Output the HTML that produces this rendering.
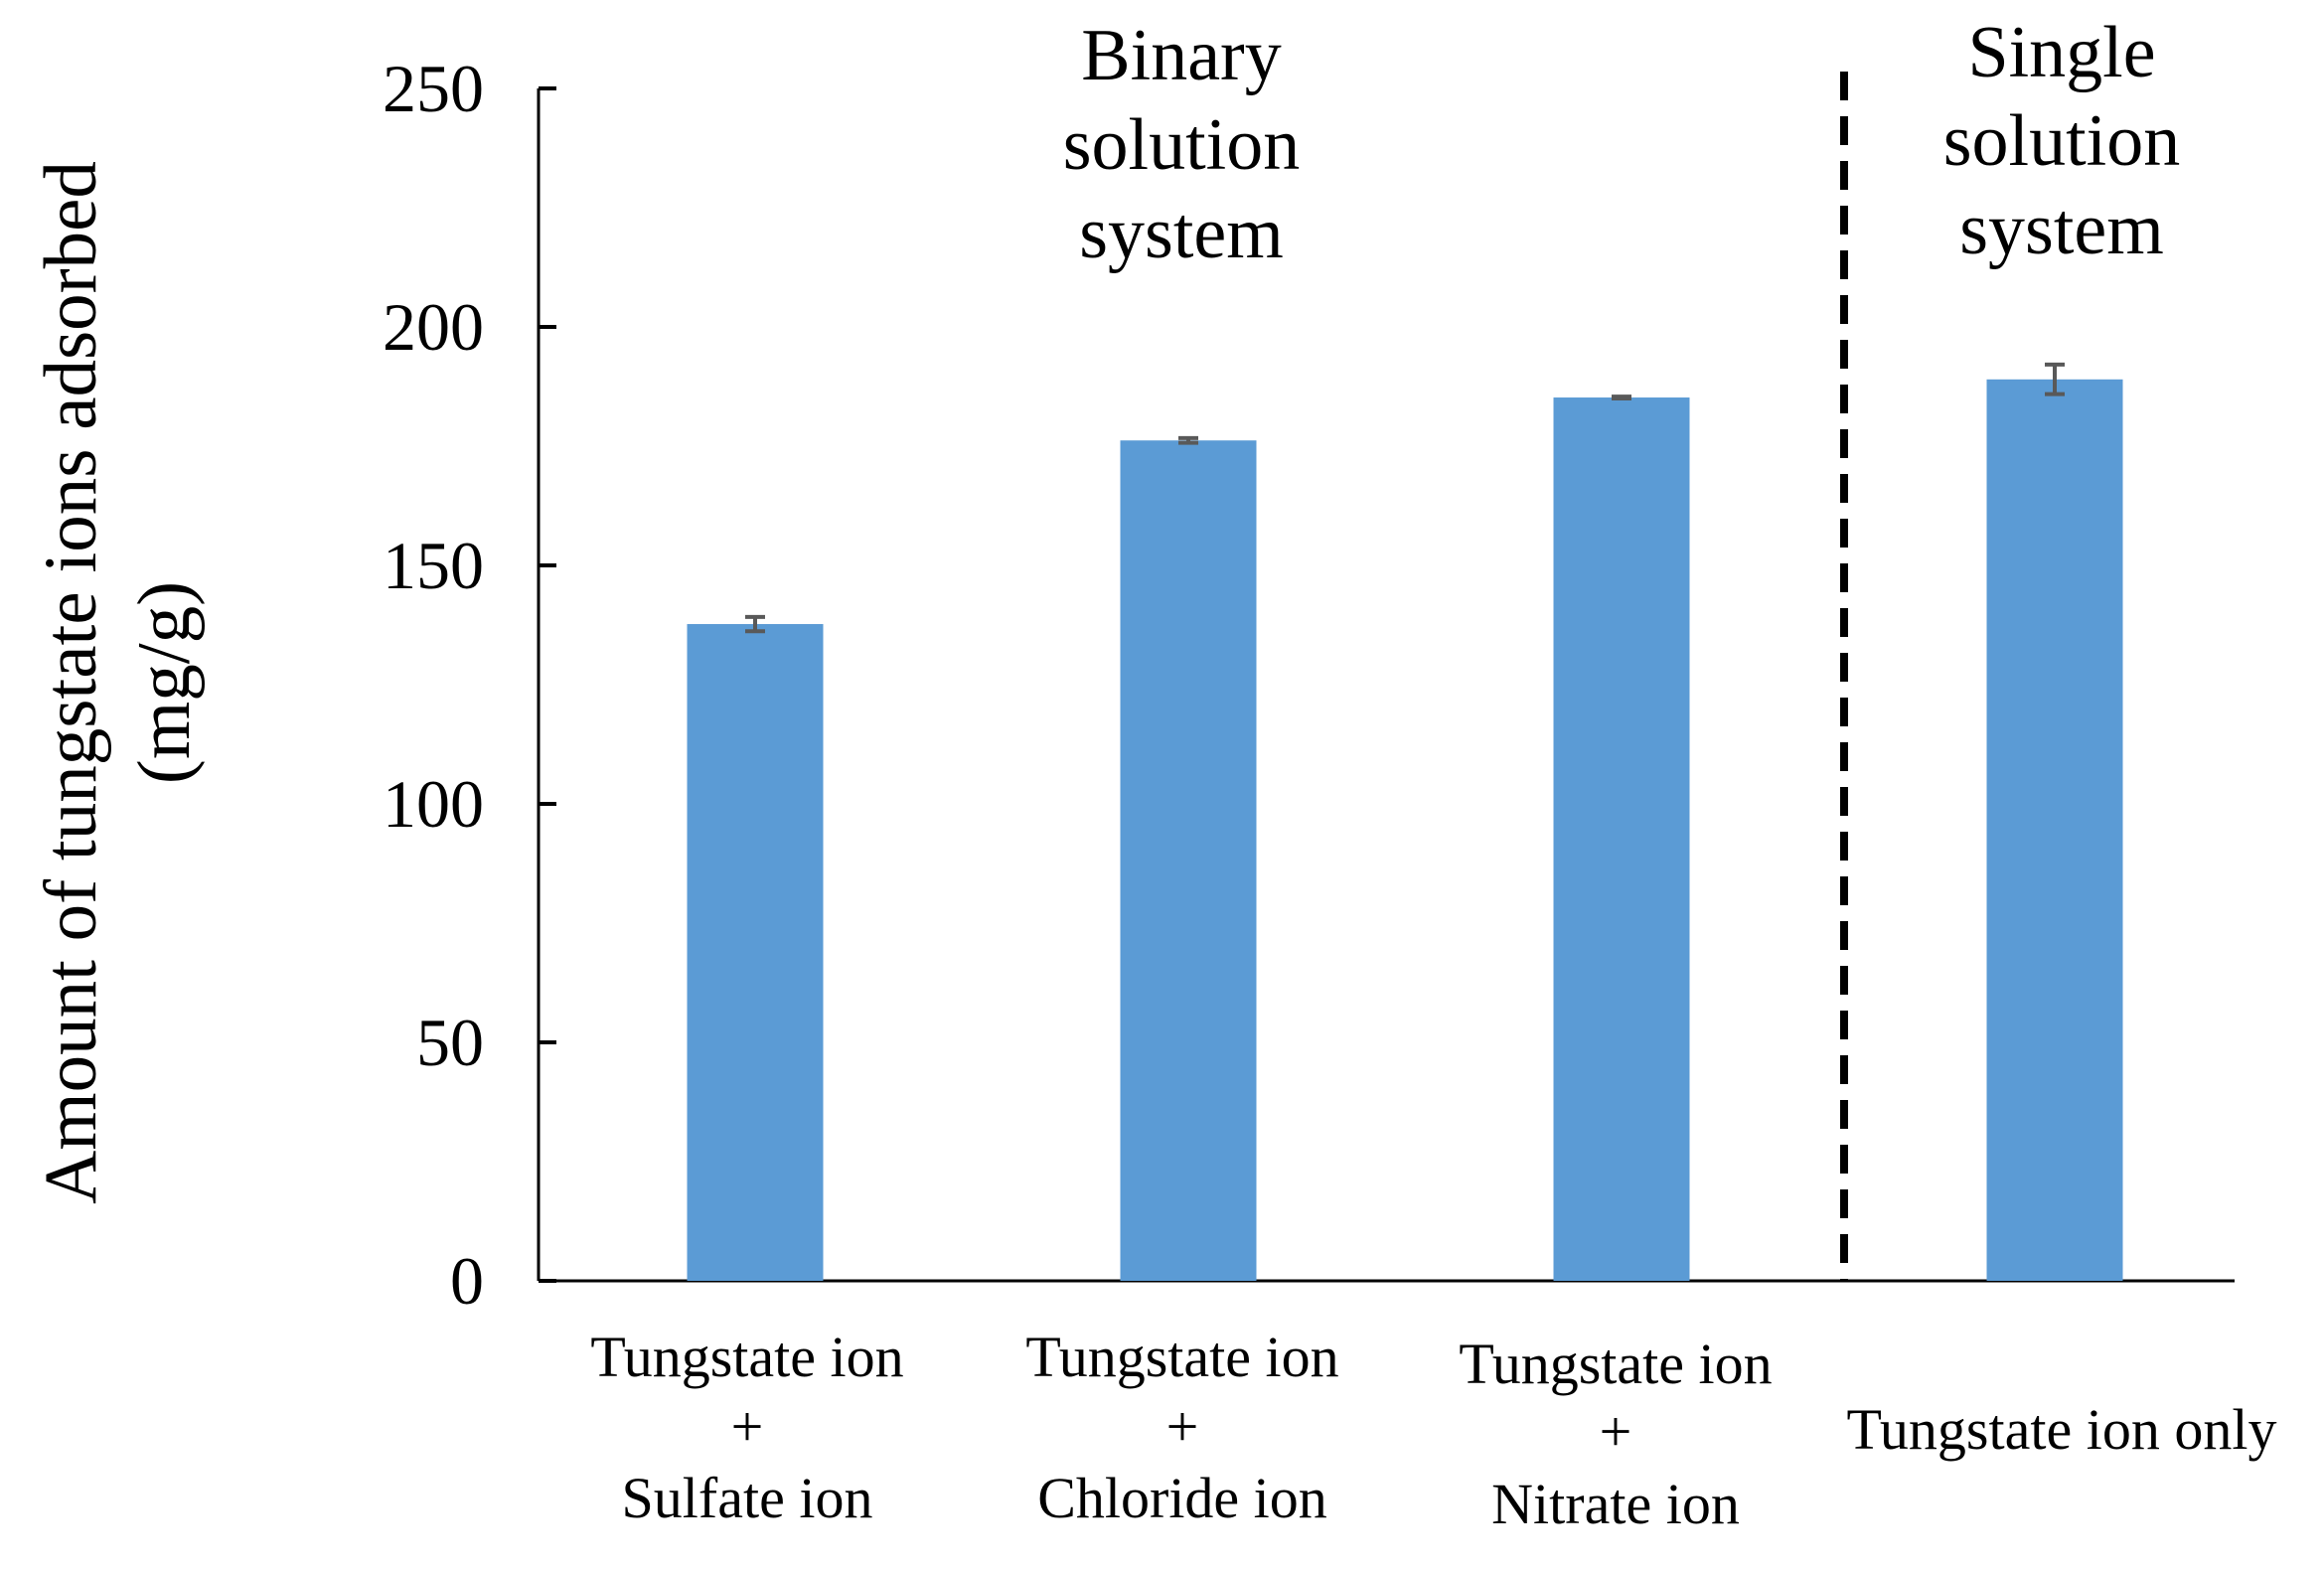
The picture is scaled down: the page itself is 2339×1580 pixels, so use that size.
<!DOCTYPE html>
<html><head><meta charset="utf-8">
<style>
html,body{margin:0;padding:0;background:#fff;}
svg{display:block;font-family:"Liberation Serif",serif;}
</style></head>
<body>
<svg id="chart" width="2339" height="1580" viewBox="0 0 2339 1580" xmlns="http://www.w3.org/2000/svg">
<g id="axes"></g>
<g id="bars"></g>
<g id="labels"></g>
</svg>
<script>
const categories = [["Tungstate ion","+","Sulfate ion"],["Tungstate ion","+","Chloride ion"],["Tungstate ion","+","Nitrate ion"],["Tungstate ion only"]];
const values = [137.7, 176.2, 185.2, 189.0];
const errors = [1.5, 0.5, 0.2, 3.1];
const yTicks = [0, 50, 100, 150, 200, 250];

const NS = "http://www.w3.org/2000/svg";
const x0 = 542, band = 436, barW = 137;
const yMin = 0, yMax = 250, yBottom = 1289, yTop = 89;
function yS(v){ return yBottom - (v - yMin) / (yMax - yMin) * (yBottom - yTop); }
function xC(i){ return x0 + band * (i + 0.5); }
function mk(tag, attrs, parent, text){
  const e = document.createElementNS(NS, tag);
  for (const k in attrs) e.setAttribute(k, attrs[k]);
  if (text !== undefined) e.textContent = text;
  parent.appendChild(e);
  return e;
}
const axes = document.getElementById('axes');
const bars = document.getElementById('bars');
const labels = document.getElementById('labels');

let el = mk('line', {x1:x0, y1:yTop, x2:x0, y2:yBottom, stroke:'#000', 'stroke-width':3}, axes);


el = mk('line', {x1:x0, y1:yBottom, x2:2249, y2:yBottom, stroke:'#000', 'stroke-width':3}, axes);



yTicks.forEach(t => {
  const y = yS(t);
  const tk = mk('line', {x1:x0, y1:y, x2:x0+18, y2:y, stroke:'#000', 'stroke-width':4}, axes);
  
  
  const lb = mk('text', {x:487, y:y+23, 'text-anchor':'end', 'font-size':68}, axes, String(t));
  
  
});

values.forEach((v, i) => {
  const cx = xC(i);
  const r = mk('rect', {x:cx-barW/2, y:yS(v), width:barW, height:yBottom-yS(v), fill:'#5b9bd5'}, bars);
  
  
  const e = errors[i];
  const g = mk('g', {stroke:'#595959', 'stroke-width':4}, bars);
  
  
  mk('line', {x1:cx, y1:yS(v+e), x2:cx, y2:yS(v-e)}, g);
  mk('line', {x1:cx-10, y1:yS(v+e), x2:cx+10, y2:yS(v+e)}, g);
  mk('line', {x1:cx-10, y1:yS(v-e), x2:cx+10, y2:yS(v-e)}, g);
});

const catCenters = [752, 1190, 1626, 2075];
const catBase = [[1385,1455,1527],[1385,1455,1527],[1392,1460,1533],[1458]];
categories.forEach((lines, i) => {
  const t = mk('text', {'text-anchor':'middle', 'font-size':58}, labels);
  
  
  lines.forEach((ln, j) => {
    mk('tspan', {x:catCenters[i], y:catBase[i][j]}, t, ln);
  });
});

el = mk('line', {x1:1856, y1:72, x2:1856, y2:1289, stroke:'#000', 'stroke-width':8, 'stroke-dasharray':'29 16'}, axes);



function title(name, cx, lines, bases){
  const t = mk('text', {'text-anchor':'middle', 'font-size':74}, labels);
  
  
  lines.forEach((ln, j) => mk('tspan', {x:cx, y:bases[j]}, t, ln));
}
title('binary-system-title', 1189, ['Binary','solution','system'], [80,170,259]);
title('single-system-title', 2075, ['Single','solution','system'], [77,166,255]);

const yt = mk('text', {'text-anchor':'middle', 'font-size':75, transform:'translate(0,687) rotate(-90)'}, labels);


mk('tspan', {x:0, y:96}, yt, 'Amount of tungstate ions adsorbed');
mk('tspan', {x:0, y:190}, yt, '(mg/g)');
</script>
</body></html>
